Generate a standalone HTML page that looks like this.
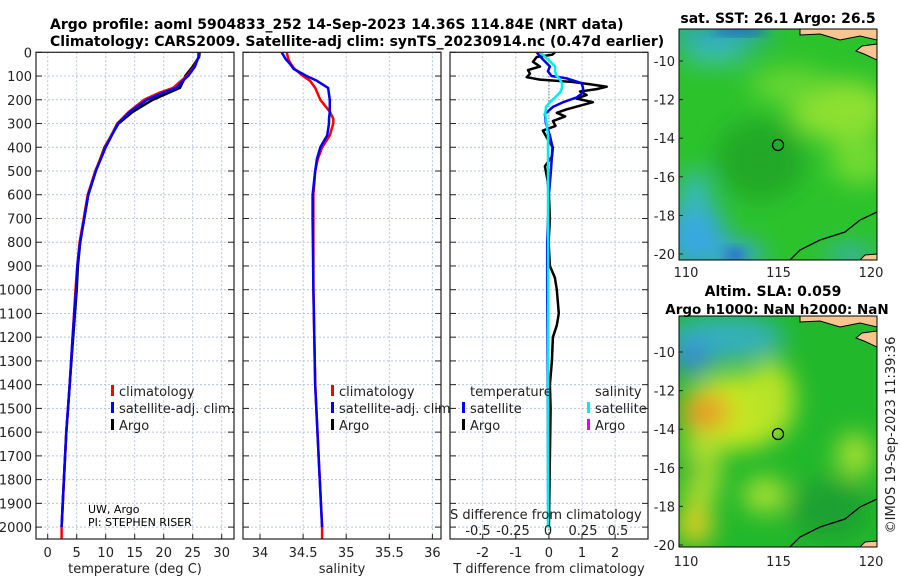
<!DOCTYPE html>
<html><head><meta charset="utf-8"><style>
body{margin:0;background:#fff}
svg{display:block;font-family:"DejaVu Sans","Liberation Sans",sans-serif}
.t{font-size:13px;fill:#222}
.b{font-weight:bold;font-size:14px;fill:#000}
</style></head><body>
<svg id="fig" width="900" height="580" viewBox="0 0 900 580">
<defs>
<filter id="bl" x="-50%" y="-50%" width="200%" height="200%"><feGaussianBlur stdDeviation="12"/></filter>
<filter id="bl2" x="-50%" y="-50%" width="200%" height="200%"><feGaussianBlur stdDeviation="6"/></filter>
<clipPath id="c1"><rect x="679" y="29" width="198" height="231"/></clipPath>
<clipPath id="c2"><rect x="679" y="316" width="198" height="231"/></clipPath>
</defs>
<text class="b" x="50" y="29">Argo profile: aoml 5904833_252 14-Sep-2023 14.36S 114.84E (NRT data)</text>
<text class="b" x="50" y="46">Climatology: CARS2009. Satellite-adj clim: synTS_20230914.nc (0.47d earlier)</text>

<g id="p1"></g>
<g id="p2"></g>
<g id="p3"></g>

<!-- top map -->
<g>
<g clip-path="url(#c1)">
<rect x="679" y="29" width="198" height="231" fill="#2cc22c"/>
<g filter="url(#bl)">
<ellipse cx="840" cy="110" rx="50" ry="30" fill="#8ee030"/>
<ellipse cx="790" cy="85" rx="40" ry="18" fill="#66d630"/>
<ellipse cx="860" cy="160" rx="30" ry="25" fill="#70da30"/>
<ellipse cx="760" cy="160" rx="45" ry="40" fill="#20a828"/>
<ellipse cx="695" cy="235" rx="30" ry="35" fill="#38a8e0"/>
<ellipse cx="735" cy="255" rx="30" ry="14" fill="#3aa6e0"/>
<ellipse cx="695" cy="195" rx="14" ry="25" fill="#3ab8c8"/>
<ellipse cx="720" cy="34" rx="55" ry="10" fill="#2fa0d8"/>
<ellipse cx="715" cy="55" rx="35" ry="10" fill="#3cc0b0"/>
<ellipse cx="850" cy="255" rx="25" ry="8" fill="#3aaae0"/>
</g>
<ellipse cx="735" cy="255" rx="10" ry="6" fill="#2060d0" filter="url(#bl2)"/>
<ellipse cx="740" cy="30" rx="28" ry="4" fill="#2050d0" filter="url(#bl2)"/>
<path d="M800,29 L877,29 L877,40 L860,36 L840,40 L820,34 L800,35Z" fill="#f8c490" stroke="#000" stroke-width="1"/>
<path d="M877,44 L862,46 L856,51 L864,54 L877,60Z" fill="#f8c490" stroke="#000" stroke-width="1"/>
<path d="M790,260 L800,250 L820,240 L845,232 L860,220 L877,212" fill="none" stroke="#000" stroke-width="1.3"/>
<path d="M860,260 L865,255 L877,254 L877,260Z" fill="#f8c490" stroke="#000"/>
<circle cx="778" cy="145" r="5.5" fill="none" stroke="#000" stroke-width="1.3"/>
</g>
<rect x="679" y="29" width="198" height="231" fill="none" stroke="#000"/>
<text class="b" x="778" y="23" text-anchor="middle">sat. SST: 26.1 Argo: 26.5</text>
</g>

<!-- bottom map -->
<g>
<g clip-path="url(#c2)">
<rect x="679" y="316" width="198" height="231" fill="#22b82c"/>
<g filter="url(#bl)">
<ellipse cx="725" cy="338" rx="60" ry="22" fill="#36b0c0"/>
<ellipse cx="692" cy="358" rx="20" ry="16" fill="#3a88d8"/>
<ellipse cx="735" cy="412" rx="55" ry="38" fill="#c8e820"/>
<ellipse cx="770" cy="400" rx="25" ry="40" fill="#b8e428"/>
<ellipse cx="705" cy="412" rx="25" ry="18" fill="#e89828"/>
<ellipse cx="700" cy="470" rx="20" ry="40" fill="#b0e030"/>
<ellipse cx="695" cy="525" rx="18" ry="20" fill="#e0d020"/>
<ellipse cx="765" cy="495" rx="22" ry="18" fill="#a8e030"/>
<ellipse cx="855" cy="455" rx="18" ry="22" fill="#a8e030"/>
<ellipse cx="830" cy="510" rx="40" ry="30" fill="#1ea030"/>
<ellipse cx="690" cy="470" rx="10" ry="15" fill="#30b030"/>
</g>
<path d="M800,316 L877,316 L877,327 L860,323 L840,327 L820,321 L800,322Z" fill="#f8c490" stroke="#000" stroke-width="1"/>
<path d="M877,331 L862,333 L856,338 L864,341 L877,347Z" fill="#f8c490" stroke="#000" stroke-width="1"/>
<path d="M790,547 L800,537 L820,527 L845,519 L860,507 L877,499" fill="none" stroke="#000" stroke-width="1.3"/>
<path d="M860,547 L865,542 L877,541 L877,547Z" fill="#f8c490" stroke="#000"/>
<circle cx="778" cy="434" r="5.5" fill="none" stroke="#000" stroke-width="1.3"/>
</g>
<rect x="679" y="316" width="198" height="231" fill="none" stroke="#000"/>
<text class="b" x="773" y="296" text-anchor="middle">Altim. SLA: 0.059</text>
<text class="b" x="777" y="314" text-anchor="middle" font-size="13.5" style="font-size:13.5px">Argo h1000: NaN h2000: NaN</text>
</g>
<text class="t" transform="translate(895,435) rotate(-90)" text-anchor="middle">©IMOS 19-Sep-2023 11:39:36</text>
</svg>
<script>
// ---- data ----
const depthT = [0,20,60,100,120,150,170,200,250,300,400,500,600,700,800,900,1000,1200,1400,1600,1800,2000];
const tempClim = [26.1,26.0,25.3,24.0,23.0,21.6,19.3,16.6,14.0,12.0,9.9,8.2,6.9,6.2,5.5,5.1,4.8,4.3,3.8,3.2,2.8,2.4];
const tempSat  = [26.0,26.0,25.4,24.2,23.3,22.2,19.9,17.1,14.2,12.1,10.0,8.3,7.0,6.3,5.6,5.1,4.9,4.3,3.8,3.2,2.8,2.4];
const tempArgo = [26.2,26.1,25.0,23.7,23.4,22.8,20.9,18.1,14.7,12.2,9.8,8.3,7.0,6.3,5.6,5.2,5.0,4.4,3.8,3.2,2.8,2.4];
const depthS = [0,30,50,70,100,120,150,200,250,280,300,350,400,450,500,600,700,1000,1400,1700,2000];
const salClim = [34.31,34.33,34.36,34.40,34.50,34.58,34.64,34.70,34.81,34.85,34.85,34.81,34.72,34.67,34.64,34.62,34.62,34.62,34.64,34.68,34.72];
const salSat  = [34.25,34.30,34.35,34.39,34.54,34.66,34.79,34.81,34.81,34.80,34.80,34.78,34.70,34.66,34.64,34.61,34.61,34.62,34.64,34.68,34.72];
const depthD = [0,30,60,80,100,110,130,150,170,190,210,230,260,300,350,400,500,600,800,1000,1500,2000];
const dTsat = [-0.37,-0.18,0.03,-0.03,0.08,0.54,0.99,1.03,1.03,0.84,0.43,0.12,-0.12,-0.09,0.03,0.11,0.06,0.0,-0.05,-0.05,-0.03,-0.02];
const dSsat = [-0.06,0.0,0.05,0.05,0.06,0.08,0.1,0.1,0.085,0.05,0.014,-0.014,-0.02,-0.01,0,0,0,0,0,0,0,0];
const depthA = [0,10,20,40,60,75,90,105,115,125,135,145,155,165,180,195,210,225,240,255,270,290,310,330,360,400,440,480,540,600,700,800,900,950,1000,1100,1150,1200,1300,1400,1500,1700,2000];
const dTargo = [0.18,0.1,-0.37,-0.48,-0.27,-0.63,-0.57,-0.67,-0.27,0.73,1.24,1.75,1.44,0.94,1.14,0.84,1.33,0.94,0.54,0.24,0.49,0.12,0.2,-0.18,-0.06,0.12,0.09,-0.12,-0.04,0.0,0.03,-0.01,0.03,0.18,0.24,0.3,0.24,0.12,0.09,0.03,0.05,0.03,0.0];
const ticksDepth = [0,100,200,300,400,500,600,700,800,900,1000,1100,1200,1300,1400,1500,1600,1700,1800,1900,2000];
const ticksT = [0,5,10,15,20,25,30];
const ticksS = [34,34.5,35,35.5,36];
const ticksS_lbl = ["34","34.5","35","35.5","36"];
const ticksDT = [-2,-1,0,1,2];
const ticksDS = [-0.5,-0.25,0,0.25,0.5];
const ticksLat = [-10,-12,-14,-16,-18,-20];
const ticksLon = [110,115,120];

const NS='http://www.w3.org/2000/svg';
const svg=document.getElementById('fig');
function mk(parent,tag,at,txt){const e=document.createElementNS(NS,tag);for(const k in at)e.setAttribute(k,at[k]);if(txt!==undefined)e.textContent=txt;parent.appendChild(e);return e;}
const TOP=52.3, BOT=539;
const yD=d=>TOP+d*0.2374;
function panel(g,x0,x1,xs,ticks,lbls,title,nm){
  mk(g,'rect',{x:x0,y:TOP,width:x1-x0,height:BOT-TOP,fill:'#fff'});
  ticks.forEach(v=>{const l=mk(g,'line',{x1:xs(v),x2:xs(v),y1:TOP,y2:BOT,stroke:'#b8c4e0','stroke-dasharray':'2,2','stroke-width':1});
    
    });
  ticksDepth.forEach(d=>{const l=mk(g,'line',{x1:x0,x2:x1,y1:yD(d),y2:yD(d),stroke:'#b8c4e0','stroke-dasharray':'2,2','stroke-width':1});
    
    
    mk(g,'line',{x1:x0,x2:x0+6,y1:yD(d),y2:yD(d),stroke:'#222'});
    mk(g,'line',{x1:x1-6,x2:x1,y1:yD(d),y2:yD(d),stroke:'#222'});});
  ticks.forEach((v,i)=>{const t=mk(g,'text',{x:xs(v),y:557,'text-anchor':'middle',class:'t'},lbls[i]);
    
    
    mk(g,'line',{x1:xs(v),x2:xs(v),y1:BOT-5,y2:BOT,stroke:'#222'});});
  const tt=mk(g,'text',{x:(x0+x1)/2,y:573,'text-anchor':'middle',class:'t'},title);
  
  
}
function frame(g,x0,x1){mk(g,'rect',{x:x0,y:TOP,width:x1-x0,height:BOT-TOP,fill:'none',stroke:'#222','stroke-width':1.2});}
function line(g,xs,vals,depths,col,w,name){
  const pts=vals.map((v,i)=>xs(v).toFixed(1)+','+yD(depths[i]).toFixed(1)).join(' ');
  const p=mk(g,'polyline',{points:pts,fill:'none',stroke:col,'stroke-width':w,'stroke-linejoin':'round'});
  
  
  return p;}
function legendItem(g,x,y,col,txt){mk(g,'rect',{x:x,y:y-11,width:3,height:11,fill:col});
  const t=mk(g,'text',{x:x+8,y:y,class:'t'},txt);
  
  }

// panel 1
const g1=document.getElementById('p1');
const xT=v=>47.7+v*5.8;
panel(g1,36,234,xT,ticksT,ticksT.map(String),'temperature (deg C)','temperature');
ticksDepth.forEach(d=>{const t=mk(g1,'text',{x:32,y:yD(d)+5,'text-anchor':'end',class:'t'},String(d));
  
  });
line(g1,xT,tempArgo,depthT,'#000',2.5,'argo-temperature-line');
line(g1,xT,tempClim.concat([2.4]),depthT.concat([2050]),'#f00',2.5,'climatology-temperature-line');
line(g1,xT,tempSat,depthT,'#00f',2.5,'satellite-temperature-line');
frame(g1,36,234);
legendItem(g1,111,396,'#f00','climatology');legendItem(g1,111,413,'#00f','satellite-adj. clim.');legendItem(g1,111,430,'#000','Argo');
mk(g1,'text',{x:88,y:513,'font-size':11,fill:'#000'},'UW, Argo');
mk(g1,'text',{x:88,y:526,'font-size':11,fill:'#000'},'PI: STEPHEN RISER');

// panel 2
const g2=document.getElementById('p2');
const xS=v=>260+(v-34)*86.2;
panel(g2,243,441,xS,ticksS,ticksS_lbl,'salinity','salinity');
line(g2,xS,salClim.concat([34.72]),depthS.concat([2050]),'#f00',2.5,'climatology-salinity-line');
line(g2,xS,salSat,depthS,'#00f',2.5,'satellite-salinity-line');
frame(g2,243,441);
legendItem(g2,331,396,'#f00','climatology');legendItem(g2,331,413,'#00f','satellite-adj. clim.');legendItem(g2,331,430,'#000','Argo');

// panel 3
const g3=document.getElementById('p3');
const xDT=v=>548.9+v*33.1;
const xDS=v=>548+v*140;
panel(g3,450,648,xDT,ticksDT,ticksDT.map(String),'T difference from climatology','t-difference');
mk(g3,'line',{x1:xDT(0),x2:xDT(0),y1:TOP,y2:BOT,stroke:'#363','stroke-dasharray':'1,2'});
line(g3,xDT,dTargo,depthA,'#000',2.5,'argo-t-difference-line');
line(g3,xDT,dTsat,depthD,'#00e',2.5,'satellite-t-difference-line');
line(g3,xDS,dSsat,depthD,'#0ee',2.5,'satellite-s-difference-line');
frame(g3,450,648);
mk(g3,'text',{x:470,y:396,class:'t'},'temperature');
mk(g3,'text',{x:595,y:396,class:'t'},'salinity');
legendItem(g3,462,413,'#00f','satellite');legendItem(g3,462,430,'#000','Argo');
legendItem(g3,587,413,'#0ee','satellite');legendItem(g3,587,430,'#e0e','Argo');
mk(g3,'text',{x:450,y:519,class:'t','font-size':14},'S difference from climatology');
ticksDS.forEach(v=>{const t=mk(g3,'text',{x:xDS(v),y:535,'text-anchor':'middle',class:'t'},String(v));
  
  });

// map ticks
function mapTicks(y10,bottom){
  ticksLat.forEach(v=>{const y=y10+(-10-v)*19.3;
    const t=mk(svg,'text',{x:675,y:y+5,'text-anchor':'end',class:'t'},String(v));
    
    
    mk(svg,'line',{x1:679,x2:683,y1:y,y2:y,stroke:'#222'});});
  ticksLon.forEach(v=>{const x=686+(v-110)*18.5;
    const t=mk(svg,'text',{x:x,y:bottom+15,'text-anchor':'middle',class:'t'},String(v));
    
    });
}
mapTicks(61,262);mapTicks(352,551);
</script>
</body></html>
